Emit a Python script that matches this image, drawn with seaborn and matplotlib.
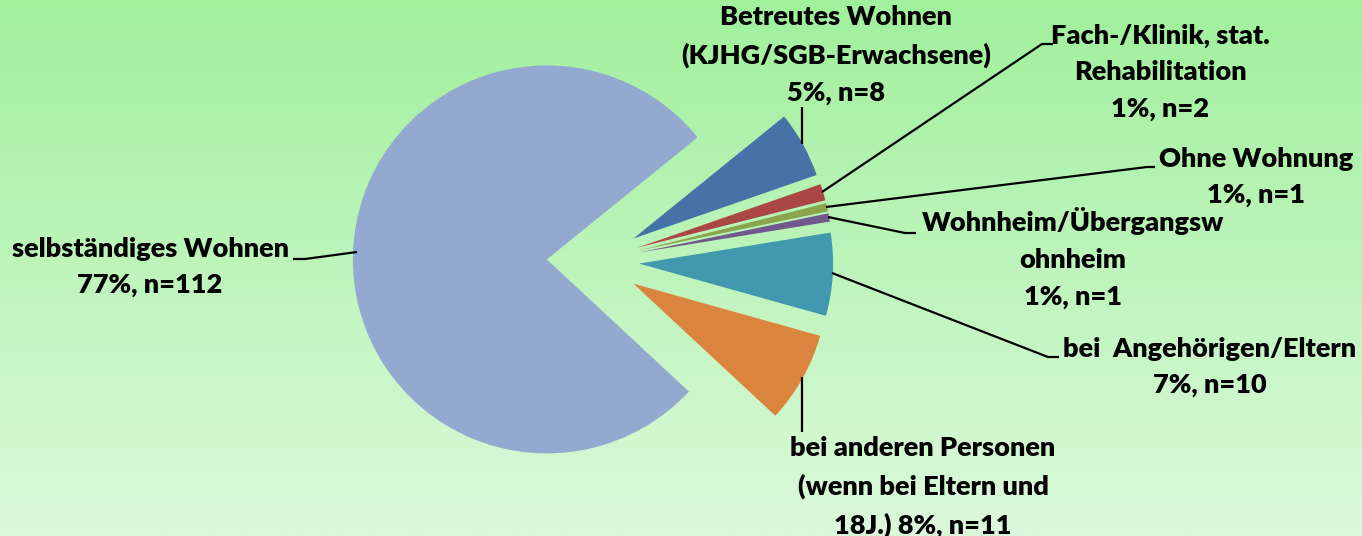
import numpy as np
import matplotlib
matplotlib.use("Agg")
import matplotlib.pyplot as plt
import seaborn as sns

# ---- data ----
categories = [
    "Betreutes Wohnen\n(KJHG/SGB-Erwachsene)",
    "Fach-/Klinik, stat.\nRehabilitation",
    "Ohne Wohnung",
    "Wohnheim/Übergangsw\nohnheim",
    "bei  Angehörigen/Eltern",
    "bei anderen Personen\n(wenn bei Eltern und\n18J.)",
    "selbständiges Wohnen",
]
counts = [8, 2, 1, 1, 10, 11, 112]
percents = ["5%", "1%", "1%", "1%", "7%", "8%", "77%"]
label_sep = ["\n", "\n", "\n", "\n", "\n", " ", "\n"]
colors = ["#4572A7", "#AA4643", "#89A54E", "#71588F", "#4198AF", "#DB843D", "#93A9CF"]

# ---- layout (pixels) ----
W, H = 1362, 536
R_PX = 194.0
CENTER_PX = (593, 261)

def P(xp, yp):
    return (xp / R_PX, (H - yp) / R_PX)

# label centres (pixels)
label_pos = [(836, 55), (1160, 72), (1256, 177), (1073, 258), (1210, 367), (923, 487), (150, 267)]
# leader line paths (pixels)
leaders = [
    [(802, 144), (802, 107)],
    [(822, 192), (1042, 44), (1053, 44)],
    [(826, 207), (1147, 167), (1155, 167)],
    [(828, 217), (905, 233), (916, 233)],
    [(832, 273), (1048, 357), (1059, 357)],
    [(802, 377), (802, 432)],
    [(357, 252), (305, 259), (293, 259)],
]

sns.set_theme(style="white")
plt.rcParams["font.family"] = ["Lato", "DejaVu Sans"]

fig = plt.figure(figsize=(W / 100, H / 100), dpi=100)
ax = fig.add_axes([0, 0, 1, 1])

# background gradient
top = np.array([160, 240, 156]) / 255
bot = np.array([220, 249, 219]) / 255
t = np.linspace(0, 1, 256)[:, None]
grad = (top * (1 - t) + bot * t)[:, None, :]
ax.imshow(grad, extent=[0, W / R_PX, 0, H / R_PX], aspect="auto", zorder=0, origin="upper")

ax.pie(
    counts,
    colors=colors,
    startangle=39,
    counterclock=False,
    explode=[0.238] * len(counts),
    radius=1.0,
    center=P(*CENTER_PX),
    wedgeprops=dict(linewidth=0),
    frame=False,
)

for path in leaders:
    xs, ys = zip(*[P(x, y) for x, y in path])
    ax.plot(xs, ys, color="black", lw=1.6, solid_capstyle="butt", zorder=3)

for name, sep, pct, n, (lx, ly) in zip(categories, label_sep, percents, counts, label_pos):
    txt = f"{name}{sep}{pct}, n={n}"
    x, y = P(lx, ly)
    ax.text(x, y, txt, ha="center", va="center", multialignment="center",
            fontsize=19.5, fontweight="heavy", color="black", linespacing=1.62, zorder=4)

ax.set_xlim(0, W / R_PX)
ax.set_ylim(0, H / R_PX)
ax.set_aspect("equal")
ax.axis("off")

fig.savefig("out.png", dpi=100)
